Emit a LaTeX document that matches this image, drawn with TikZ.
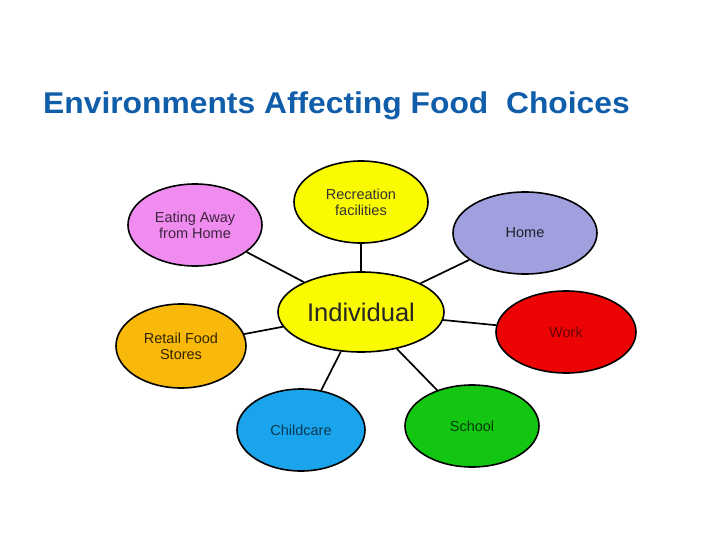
\documentclass[tikz,border=0pt]{standalone}
\usepackage{fontspec}
\setmainfont{Liberation Sans}
\newfontfamily\titlefont[FakeStretch=1.06]{Liberation Sans}
\usetikzlibrary{shapes.geometric}
\definecolor{titleblue}{RGB}{16,94,170}
\definecolor{pinkfill}{RGB}{240,140,240}
\definecolor{yellowfill}{RGB}{250,250,0}
\definecolor{lavfill}{RGB}{160,160,222}
\definecolor{orangefill}{RGB}{249,185,10}
\definecolor{redfill}{RGB}{236,4,4}
\definecolor{bluefill}{RGB}{26,164,236}
\definecolor{greenfill}{RGB}{18,198,18}

\begin{document}
\begin{tikzpicture}[%
x=1pt, y=-1pt,
env/.style={ellipse, draw=black, line width=1.6pt, inner sep=0pt, align=center,
  font=\fontsize{14.5}{16}\selectfont},
link/.style={line width=1.7pt},
]
\useasboundingbox (0,0) rectangle (720,540);
%% title;
\node [anchor=base west, inner sep=0pt, text=titleblue, font=\titlefont\fontsize{30}{30}\selectfont\bfseries] (title)
  at (43,114) {Environments Affecting Food\ \ Choices};
%% ellipses;
\node [env, fill=yellowfill, minimum width=166pt, minimum height=80pt,
  font=\fontsize{25.5}{26}\selectfont, text=black!85] (indiv) at (361,312) {Individual};
\node [env, fill=yellowfill, minimum width=134pt, minimum height=82pt, text=black!80] (recr) at (361,202) {Recreation\\facilities};
\node [env, fill=pinkfill, minimum width=134pt, minimum height=82pt, text=black!75!pinkfill] (eat) at (195,225) {Eating Away\\from Home};
\node [env, fill=lavfill, minimum width=144pt, minimum height=82pt, text=black!80!lavfill] (home) at (525,233) {Home};
\node [env, fill=orangefill, minimum width=130pt, minimum height=84pt, text=black!80!orangefill] (retail) at (181,346) {Retail Food\\Stores};
\node [env, fill=redfill, minimum width=140pt, minimum height=82pt, text=black!55!redfill] (work) at (566,332) {Work};
\node [env, fill=bluefill, minimum width=128pt, minimum height=82pt, text=black!65!bluefill] (child) at (301,430) {Childcare};
\node [env, fill=greenfill, minimum width=134pt, minimum height=82pt, text=black!70!greenfill] (school) at (472,426) {School};
%% connectors;
\draw [link] (indiv) -- (recr);
\draw [link] (indiv) -- (eat);
\draw [link] (indiv) -- (home);
\draw [link] (indiv) -- (retail);
\draw [link] (indiv) -- (work);
\draw [link] (indiv) -- (child);
\draw [link] (indiv) -- (school);
\end{tikzpicture}
\end{document}
